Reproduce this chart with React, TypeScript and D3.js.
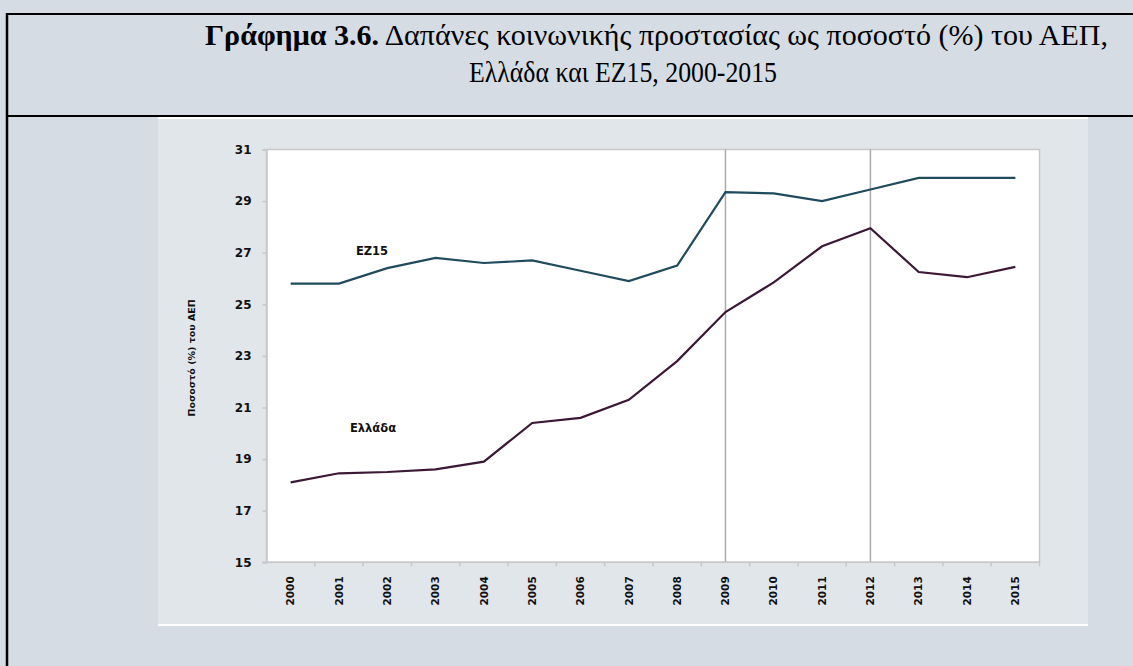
import React, { useRef, useEffect } from 'react';
import * as d3 from 'd3';

const years = ['2000', '2001', '2002', '2003', '2004', '2005', '2006', '2007', '2008', '2009', '2010', '2011', '2012', '2013', '2014', '2015'];
const ez15 = [25.8, 25.8, 26.4, 26.8, 26.6, 26.7, 26.3, 25.9, 26.5, 29.35, 29.3, 29.0, 29.45, 29.9, 29.9, 29.9];
const greece = [18.1, 18.45, 18.5, 18.6, 18.9, 20.4, 20.6, 21.3, 22.8, 24.7, 25.85, 27.25, 27.95, 26.25, 26.05, 26.45];
const yTicks = [15, 17, 19, 21, 23, 25, 27, 29, 31];
const markedYears = ['2009', '2012'];

const W = 1133;
const H = 666;
const chartFont = '"DejaVu Sans", sans-serif';
const titleFont = '"Liberation Serif", "Times New Roman", serif';

const App = () => {
  const svgRef = useRef(null);

  useEffect(() => {
    const svg = d3.select(svgRef.current);
    svg.selectAll('*').remove();

    // background and table borders
    svg.append('rect').attr('width', W).attr('height', H).attr('fill', '#d5dce4');
    svg.append('rect')
      .attr('x', 158).attr('y', 118).attr('width', 930).attr('height', 507)
      .attr('fill', '#e1e6ea');
    svg.append('line').attr('x1', 158).attr('x2', 1088).attr('y1', 118).attr('y2', 118)
      .attr('stroke', '#fff').attr('stroke-width', 2);
    svg.append('line').attr('x1', 158).attr('x2', 1088).attr('y1', 625).attr('y2', 625)
      .attr('stroke', '#fff').attr('stroke-width', 2);
    svg.append('line').attr('x1', 6).attr('x2', W).attr('y1', 14).attr('y2', 14)
      .attr('stroke', '#000').attr('stroke-width', 2);
    svg.append('line').attr('x1', 6).attr('x2', W).attr('y1', 116).attr('y2', 116)
      .attr('stroke', '#000').attr('stroke-width', 2);
    svg.append('line').attr('x1', 7).attr('x2', 7).attr('y1', 13).attr('y2', H)
      .attr('stroke', '#000').attr('stroke-width', 2.5);

    // title
    const t1 = svg.append('text')
      .attr('x', 205).attr('y', 45)
      .attr('textLength', 903).attr('lengthAdjust', 'spacingAndGlyphs')
      .style('font-family', titleFont)
      .style('font-size', '29px')
      .attr('fill', '#000');
    t1.append('tspan').style('font-weight', 'bold').text('Γράφημα 3.6.');
    t1.append('tspan').text(' Δαπάνες κοινωνικής προστασίας ως ποσοστό (%) του ΑΕΠ,');
    svg.append('text')
      .attr('x', 469).attr('y', 82)
      .attr('textLength', 308).attr('lengthAdjust', 'spacingAndGlyphs')
      .style('font-family', titleFont)
      .style('font-size', '29px')
      .attr('fill', '#000')
      .text('Ελλάδα και ΕΖ15, 2000-2015');

    // chart
    const x = d3.scaleBand().domain(years).range([266.5, 1039.5]).padding(0);
    const y = d3.scaleLinear().domain([15, 31]).range([562.3, 149.5]);
    const cx = (d) => x(d) + x.bandwidth() / 2;

    svg.append('rect')
      .attr('x', x.range()[0]).attr('y', y(31))
      .attr('width', x.range()[1] - x.range()[0]).attr('height', y(15) - y(31))
      .attr('fill', '#fff').attr('stroke', '#c6c8ca').attr('stroke-width', 1.5);

    svg.selectAll('.mark')
      .data(markedYears)
      .enter()
      .append('line')
        .attr('x1', d => cx(d)).attr('x2', d => cx(d))
        .attr('y1', y(31)).attr('y2', y(15))
        .attr('stroke', '#a9abad').attr('stroke-width', 1.5);

    // y axis
    const yAxis = svg.append('g')
      .attr('transform', `translate(${x.range()[0]},0)`)
      .call(d3.axisLeft(y).tickValues(yTicks).tickSize(4).tickPadding(11).tickFormat(d3.format('d')));
    yAxis.select('.domain').attr('stroke', '#c6c8ca').attr('stroke-width', 1.5);
    yAxis.selectAll('.tick line').attr('stroke', '#c6c8ca').attr('stroke-width', 1.5);
    yAxis.selectAll('.tick text')
      .style('font-family', chartFont).style('font-size', '12px').style('font-weight', 'bold')
      .attr('fill', '#111');

    // x axis: ticks on band edges, labels in band centres
    const edges = years.slice(1).concat(['end']);
    svg.selectAll('.xtick')
      .data(edges)
      .enter()
      .append('line')
        .attr('x1', d => d === 'end' ? x.range()[1] : x(d))
        .attr('x2', d => d === 'end' ? x.range()[1] : x(d))
        .attr('y1', y(15)).attr('y2', y(15) + 4)
        .attr('stroke', '#c6c8ca').attr('stroke-width', 1.5);
    svg.append('line')
      .attr('x1', x.range()[0] - 4).attr('x2', x.range()[1])
      .attr('y1', y(15)).attr('y2', y(15))
      .attr('stroke', '#c6c8ca').attr('stroke-width', 1.5);
    svg.selectAll('.xlabel')
      .data(years)
      .enter()
      .append('text')
        .attr('transform', d => `translate(${cx(d)},${y(15) + 14}) rotate(-90)`)
        .attr('text-anchor', 'end')
        .attr('dy', '0.35em')
        .style('font-family', chartFont).style('font-size', '10.5px').style('font-weight', 'bold')
        .attr('fill', '#111')
        .text(d => d);

    svg.append('text')
      .attr('transform', `translate(192,${(y(15) + y(31)) / 2 + 2}) rotate(-90)`)
      .attr('text-anchor', 'middle')
      .attr('dy', '0.35em')
      .style('font-family', chartFont).style('font-size', '9.5px').style('font-weight', 'bold')
      .attr('fill', '#111')
      .text('Ποσοστό (%) του ΑΕΠ');

    // lines
    const line = d3.line()
      .x((d, i) => cx(years[i]))
      .y(d => y(d));
    svg.append('path').datum(ez15)
      .attr('d', line).attr('fill', 'none')
      .attr('stroke', '#1f4b5c').attr('stroke-width', 2.2);
    svg.append('path').datum(greece)
      .attr('d', line).attr('fill', 'none')
      .attr('stroke', '#3b1836').attr('stroke-width', 2.2);

    svg.append('text')
      .attr('x', 372).attr('y', 251).attr('dy', '0.35em')
      .attr('text-anchor', 'middle')
      .style('font-family', chartFont).style('font-size', '11.5px').style('font-weight', 'bold')
      .attr('fill', '#111')
      .text('ΕΖ15');
    svg.append('text')
      .attr('x', 373).attr('y', 428).attr('dy', '0.35em')
      .attr('text-anchor', 'middle')
      .style('font-family', chartFont).style('font-size', '11.5px').style('font-weight', 'bold')
      .attr('fill', '#111')
      .text('Ελλάδα');
  }, []);

  return (
    <svg ref={svgRef} width={W} height={H} style={{ position: 'absolute', left: 0, top: 0 }}></svg>
  );
};

export default App;
